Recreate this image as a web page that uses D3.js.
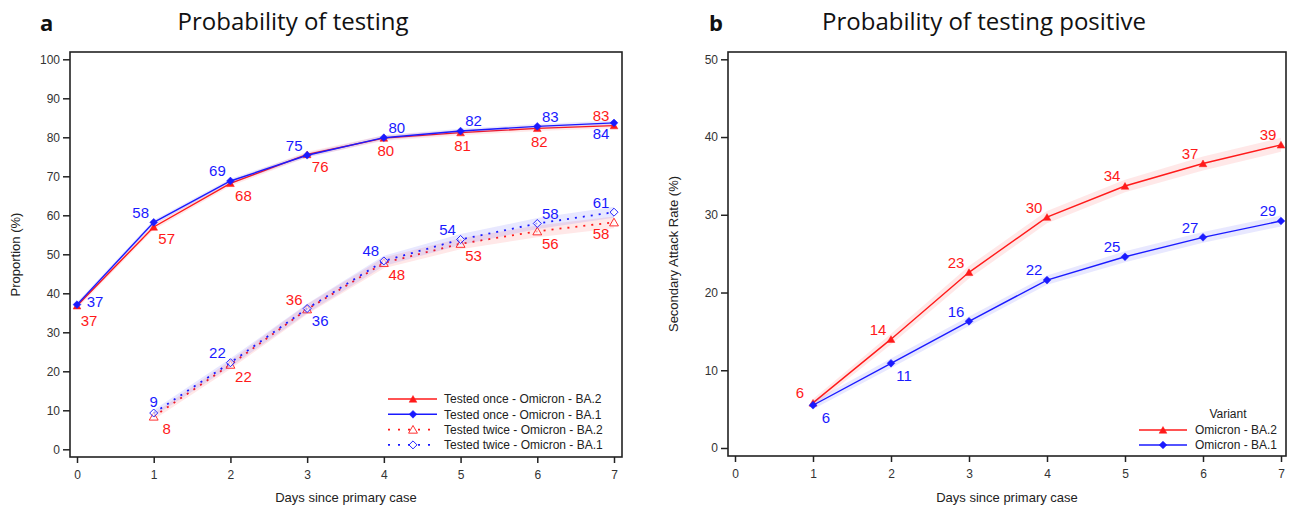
<!DOCTYPE html>
<html>
<head>
<meta charset="utf-8">
<script src="https://cdn.jsdelivr.net/npm/d3@7"></script>
<style>
  body { margin: 0; background: #fff; }
  svg text { font-family: "Liberation Sans", Arial, sans-serif; }
  .tick text { font-size: 12px; fill: #333; }
  .tick line { stroke: #222; stroke-width: 1.5; }
  .title { font-family: "Open Sans", "Noto Sans", sans-serif !important; font-size: 24px; fill: #111; }
  .panel { font-family: "Open Sans", "Noto Sans", sans-serif !important; font-size: 22px; font-weight: bold; fill: #111; }
  .axtitle { font-size: 13px; fill: #222; }
  .lbl { font-size: 15px; }
  .leg { font-size: 12px; fill: #222; }
</style>
</head>
<body>
<div id="chart"></div>
<script>
// ---- data ----
var days = [0, 1, 2, 3, 4, 5, 6, 7];
var daysTwice = [1, 2, 3, 4, 5, 6, 7];
var daysB = [1, 2, 3, 4, 5, 6, 7];

// panel a: probability of testing (%)
var onceBA2 = [36.8, 57.0, 68.2, 75.6, 79.8, 81.2, 82.3, 83.0];
var onceBA1 = [37.1, 58.2, 68.8, 75.4, 79.9, 81.6, 82.8, 83.7];
var twiceBA2 = [8.4, 21.7, 35.9, 47.8, 52.7, 55.9, 58.2];
var twiceBA1 = [9.3, 22.2, 36.1, 48.3, 53.8, 57.9, 60.8];
var onceBA2Lo = [36.1, 56.3, 67.5, 74.9, 79.1, 80.5, 81.6, 82.3];
var onceBA2Hi = [37.5, 57.7, 68.9, 76.3, 80.5, 81.9, 83.0, 83.7];
var onceBA1Lo = [36.5, 57.6, 68.2, 74.8, 79.3, 81.0, 82.2, 83.1];
var onceBA1Hi = [37.7, 58.8, 69.4, 76.0, 80.5, 82.2, 83.4, 84.3];
var twiceBA2Lo = [7.6, 20.6, 34.6, 46.4, 51.3, 54.4, 56.7];
var twiceBA2Hi = [9.2, 22.8, 37.2, 49.2, 54.1, 57.4, 59.7];
var twiceBA1Lo = [8.5, 21.1, 34.9, 47.0, 52.4, 56.5, 59.4];
var twiceBA1Hi = [10.1, 23.3, 37.3, 49.6, 55.2, 59.3, 62.2];

// panel b: secondary attack rate (%)
var sarBA2 = [5.8, 14.0, 22.6, 29.7, 33.7, 36.6, 39.0];
var sarBA1 = [5.5, 10.9, 16.3, 21.6, 24.6, 27.1, 29.2];
var sarBA2Lo = [5.3, 13.3, 21.8, 28.9, 32.9, 35.7, 38.1];
var sarBA2Hi = [6.3, 14.7, 23.4, 30.5, 34.5, 37.5, 39.9];
var sarBA1Lo = [5.0, 10.3, 15.7, 21.0, 23.9, 26.4, 28.5];
var sarBA1Hi = [6.0, 11.5, 16.9, 22.2, 25.3, 27.8, 29.9];

var yTicksA = [0, 10, 20, 30, 40, 50, 60, 70, 80, 90, 100];
var yTicksB = [0, 10, 20, 30, 40, 50];
var xTicks = [0, 1, 2, 3, 4, 5, 6, 7];
var legendA = ["Tested once - Omicron - BA.2", "Tested once - Omicron - BA.1",
               "Tested twice - Omicron - BA.2", "Tested twice - Omicron - BA.1"];
var legendB = ["Omicron - BA.2", "Omicron - BA.1"];

// ---- drawing ----
var W = 1293, H = 512;
var RED = "#ff1a1a", BLUE = "#1a1aff";

var svg = d3.select("#chart").append("svg")
    .attr("width", W).attr("height", H);

var frameA = {left: 70, top: 52, right: 622, bottom: 457};
var frameB = {left: 728, top: 52, right: 1286, bottom: 456};

var xA = d3.scaleLinear().domain([0, 7]).range([77, 614]);
var yA = d3.scaleLinear().domain([0, 100]).range([449.3, 59.3]);
var xB = d3.scaleLinear().domain([0, 7]).range([735, 1281]);
var yB = d3.scaleLinear().domain([0, 50]).range([448, 59.3]);

// label placement offsets
var OFF = {
  ul: [-13, -10], ur: [13, -10], br: [13, 12], bl: [-13, 11],
  b: [2, 13], u: [0, -11], r: [18, -3], brl: [12, 15]
};

function drawFrame(f, x, y, yt, ytitle) {
  svg.append("rect")
    .attr("x", f.left).attr("y", f.top)
    .attr("width", f.right - f.left).attr("height", f.bottom - f.top)
    .attr("fill", "none").attr("stroke", "#222").attr("stroke-width", 1.6);

  var gy = svg.append("g")
    .attr("transform", "translate(" + f.left + ",0)")
    .call(d3.axisLeft(y).tickValues(yt).tickSize(7).tickPadding(3).tickFormat(d3.format("d")));
  gy.select(".domain").remove();

  var gx = svg.append("g")
    .attr("transform", "translate(0," + f.bottom + ")")
    .call(d3.axisBottom(x).tickValues(xTicks).tickSize(6).tickPadding(7).tickFormat(d3.format("d")));
  gx.select(".domain").remove();

  svg.append("text").attr("class", "axtitle")
    .attr("x", (f.left + f.right) / 2).attr("y", 502)
    .attr("text-anchor", "middle").text("Days since primary case");

  svg.append("text").attr("class", "axtitle")
    .attr("transform", "translate(" + (f.left - 50) + "," + ((f.top + f.bottom) / 2) + ") rotate(-90)")
    .attr("text-anchor", "middle").text(ytitle);
}

function marker(g, type, color, cx, cy) {
  var sym, filled = true, size, rot = 0;
  if (type === "tri") { sym = d3.symbolTriangle; size = 26; }
  else if (type === "dia") { sym = d3.symbolSquare; size = 30; rot = 45; }
  else if (type === "otri") { sym = d3.symbolTriangle; size = 34; filled = false; }
  else { sym = d3.symbolSquare; size = 32; filled = false; rot = 45; }
  g.append("path")
    .attr("d", d3.symbol().type(sym).size(size)())
    .attr("transform", "translate(" + cx + "," + (type.indexOf("tri") >= 0 ? cy + 1 : cy) + ") rotate(" + rot + ")")
    .attr("fill", filled ? color : "#fff")
    .attr("fill-opacity", filled ? 1 : 0.6)
    .attr("stroke", color).attr("stroke-width", filled ? 0.5 : 0.9);
}

function drawSeries(s, x, y) {
  var g = svg.append("g");
  var band = d3.area()
    .x(function(d, i) { return x(s.x[i]); })
    .y0(function(d, i) { return y(s.lo[i]); })
    .y1(function(d, i) { return y(s.hi[i]); });
  g.append("path").datum(s.v)
    .attr("d", band).attr("fill", s.color).attr("fill-opacity", 0.1);

  var line = d3.line()
    .x(function(d, i) { return x(s.x[i]); })
    .y(function(d) { return y(d); });
  g.append("path").datum(s.v)
    .attr("d", line).attr("fill", "none")
    .attr("stroke", s.color).attr("stroke-width", s.dash ? 1.8 : 1.4)
    .attr("stroke-dasharray", s.dash ? "2,6" : null);

  s.v.forEach(function(d, i) {
    marker(g, s.mk, s.color, x(s.x[i]), y(d));
  });

  g.selectAll(".lbl").data(s.v).enter().append("text")
    .attr("class", "lbl")
    .attr("x", function(d, i) { return x(s.x[i]) + OFF[s.pos[i]][0]; })
    .attr("y", function(d, i) { return y(d) + OFF[s.pos[i]][1]; })
    .attr("dy", "0.36em")
    .attr("text-anchor", "middle")
    .attr("fill", s.color)
    .text(function(d) { return d3.format(".0f")(d); });
}

// ---- panel a ----
drawFrame(frameA, xA, yA, yTicksA, "Proportion (%)");

var seriesA = [
  {v: twiceBA2, lo: twiceBA2Lo, hi: twiceBA2Hi, x: daysTwice, color: RED, dash: true, mk: "otri",
   pos: ["br", "br", "ul", "br", "br", "br", "bl"]},
  {v: twiceBA1, lo: twiceBA1Lo, hi: twiceBA1Hi, x: daysTwice, color: BLUE, dash: true, mk: "odia",
   pos: ["u", "ul", "br", "ul", "ul", "ur", "ul"]},
  {v: onceBA2, lo: onceBA2Lo, hi: onceBA2Hi, x: days, color: RED, dash: false, mk: "tri",
   pos: ["brl", "br", "br", "br", "b", "b", "b", "ul"]},
  {v: onceBA1, lo: onceBA1Lo, hi: onceBA1Hi, x: days, color: BLUE, dash: false, mk: "dia",
   pos: ["r", "ul", "ul", "ul", "ur", "ur", "ur", "bl"]}
];
seriesA.forEach(function(s) { drawSeries(s, xA, yA); });

// legend a
var legStyleA = [
  {color: RED, dash: false, mk: "tri"}, {color: BLUE, dash: false, mk: "dia"},
  {color: RED, dash: true, mk: "otri"}, {color: BLUE, dash: true, mk: "odia"}
];
var legA = svg.append("g");
legendA.forEach(function(t, i) {
  var ly = 399 + i * 15.3;
  var st = legStyleA[i];
  legA.append("line").attr("x1", 388).attr("x2", 437).attr("y1", ly).attr("y2", ly)
    .attr("stroke", st.color).attr("stroke-width", st.dash ? 1.8 : 1.6)
    .attr("stroke-dasharray", st.dash ? "2,8" : null);
  marker(legA, st.mk, st.color, 413, ly);
  legA.append("text").attr("class", "leg").attr("x", 444).attr("y", ly).attr("dy", "0.36em").text(t);
});

svg.append("text").attr("class", "panel").attr("x", 40).attr("y", 31).text("a");
svg.append("text").attr("class", "title").attr("x", 293).attr("y", 30)
  .attr("text-anchor", "middle").text("Probability of testing");

// ---- panel b ----
drawFrame(frameB, xB, yB, yTicksB, "Secondary Attack Rate (%)");

var seriesB = [
  {v: sarBA2, lo: sarBA2Lo, hi: sarBA2Hi, x: daysB, color: RED, dash: false, mk: "tri",
   pos: ["ul", "ul", "ul", "ul", "ul", "ul", "ul"]},
  {v: sarBA1, lo: sarBA1Lo, hi: sarBA1Hi, x: daysB, color: BLUE, dash: false, mk: "dia",
   pos: ["br", "br", "ul", "ul", "ul", "ul", "ul"]}
];
seriesB.forEach(function(s) { drawSeries(s, xB, yB); });

var legB = svg.append("g");
legB.append("text").attr("class", "leg").attr("x", 1228).attr("y", 414)
  .attr("dy", "0.36em").attr("text-anchor", "middle").text("Variant");
legendB.forEach(function(t, i) {
  var ly = 430 + i * 15;
  var st = legStyleA[i];
  legB.append("line").attr("x1", 1139).attr("x2", 1187).attr("y1", ly).attr("y2", ly)
    .attr("stroke", st.color).attr("stroke-width", 1.6);
  marker(legB, st.mk, st.color, 1163, ly);
  legB.append("text").attr("class", "leg").attr("x", 1195).attr("y", ly).attr("dy", "0.36em").text(t);
});

svg.append("text").attr("class", "panel").attr("x", 709).attr("y", 31).text("b");
svg.append("text").attr("class", "title").attr("x", 984).attr("y", 30)
  .attr("text-anchor", "middle").text("Probability of testing positive");
</script>
</body>
</html>
